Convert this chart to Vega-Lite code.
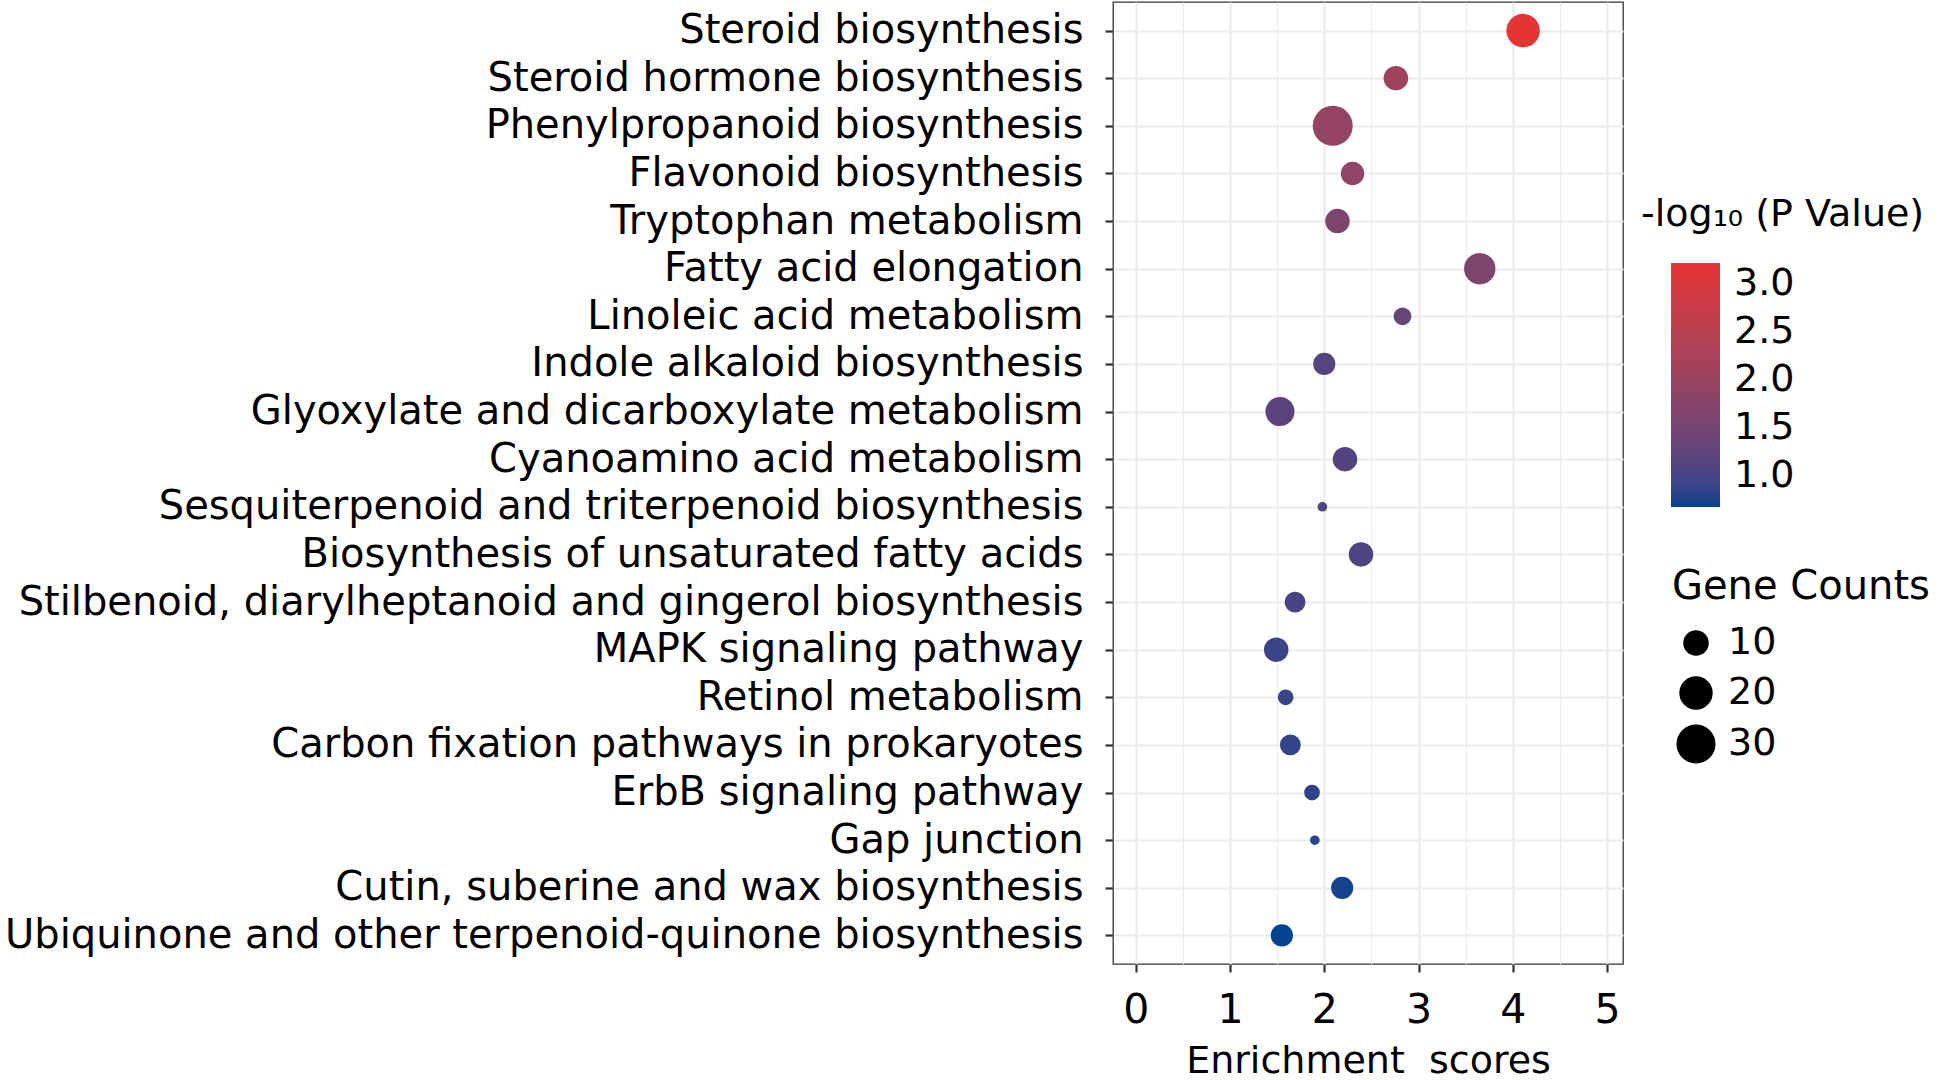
{
  "$schema": "https://vega.github.io/schema/vega-lite/v6.json",
  "autosize": {"type": "none"},
  "width": 510,
  "height": 962,
  "padding": {"left": 1113, "top": 2, "right": 323, "bottom": 116},
  "background": "white",
  "title": {
    "text": "-log\u2081\u2080 (P Value)",
    "orient": "top",
    "anchor": "start",
    "frame": "group",
    "baseline": "alphabetic",
    "offset": 0,
    "dx": 528,
    "dy": 262,
    "font": "DejaVu Sans",
    "fontSize": 38,
    "fontWeight": "normal",
    "color": "#000000",
    "limit": 400
  },
  "config": {
    "view": {"stroke": "#333333", "strokeWidth": 1.3},
    "font": "DejaVu Sans"
  },
  "data": {
    "values": [
      {"pathway": "Steroid biosynthesis", "score": 4.11, "count": 20, "logp": 3.214},
      {"pathway": "Steroid hormone biosynthesis", "score": 2.76, "count": 9, "logp": 2.1},
      {"pathway": "Phenylpropanoid biosynthesis", "score": 2.09, "count": 32, "logp": 1.95},
      {"pathway": "Flavonoid biosynthesis", "score": 2.30, "count": 8, "logp": 1.9},
      {"pathway": "Tryptophan metabolism", "score": 2.14, "count": 9, "logp": 1.65},
      {"pathway": "Fatty acid elongation", "score": 3.65, "count": 17, "logp": 1.62},
      {"pathway": "Linoleic acid metabolism", "score": 2.83, "count": 4, "logp": 1.35},
      {"pathway": "Indole alkaloid biosynthesis", "score": 2.00, "count": 7, "logp": 1.15},
      {"pathway": "Glyoxylate and dicarboxylate metabolism", "score": 1.53, "count": 14, "logp": 1.2},
      {"pathway": "Cyanoamino acid metabolism", "score": 2.22, "count": 9, "logp": 1.1},
      {"pathway": "Sesquiterpenoid and triterpenoid biosynthesis", "score": 1.98, "count": 1, "logp": 1.07},
      {"pathway": "Biosynthesis of unsaturated fatty acids", "score": 2.39, "count": 9, "logp": 1.07},
      {"pathway": "Stilbenoid, diarylheptanoid and gingerol biosynthesis", "score": 1.69, "count": 6, "logp": 1.0},
      {"pathway": "MAPK signaling pathway", "score": 1.49, "count": 9, "logp": 0.9},
      {"pathway": "Retinol metabolism", "score": 1.59, "count": 3, "logp": 0.88},
      {"pathway": "Carbon fixation pathways in prokaryotes", "score": 1.64, "count": 6, "logp": 0.85},
      {"pathway": "ErbB signaling pathway", "score": 1.87, "count": 3, "logp": 0.82},
      {"pathway": "Gap junction", "score": 1.90, "count": 1, "logp": 0.8},
      {"pathway": "Cutin, suberine and wax biosynthesis", "score": 2.19, "count": 7, "logp": 0.72},
      {"pathway": "Ubiquinone and other terpenoid-quinone biosynthesis", "score": 1.55, "count": 7, "logp": 0.678}
    ]
  },
  "mark": {"type": "point", "filled": true, "opacity": 1, "shape": "circle"},
  "encoding": {
    "x": {
      "field": "score",
      "type": "quantitative",
      "scale": {"domain": [-0.242, 5.17], "nice": false, "zero": false},
      "axis": {
        "values": [0, 0.5, 1, 1.5, 2, 2.5, 3, 3.5, 4, 4.5, 5],
        "format": ".1f",
        "labelExpr": "datum.value % 1 === 0 ? format(datum.value, 'd') : ''",
        "domain": false,
        "grid": true,
        "gridColor": "#EBEBEB",
        "gridWidth": {"condition": {"test": "datum.value % 1 !== 0", "value": 1.1}, "value": 2.2},
        "tickOpacity": {"condition": {"test": "datum.value % 1 !== 0", "value": 0}, "value": 1},
        "tickColor": "#333333",
        "tickWidth": 2.2,
        "tickSize": 8,
        "labelFont": "DejaVu Sans",
        "labelFontSize": 41,
        "labelColor": "#000000",
        "labelPadding": 18,
        "labelFlush": false,
        "title": "Enrichment\u00a0 scores",
        "titleFont": "DejaVu Sans",
        "titleFontSize": 38,
        "titleFontWeight": "normal",
        "titleColor": "#000000",
        "titlePadding": 12
      }
    },
    "y": {
      "field": "pathway",
      "type": "nominal",
      "sort": null,
      "scale": {"type": "point", "padding": 0.6},
      "axis": {
        "domain": false,
        "grid": true,
        "gridColor": "#EBEBEB",
        "gridWidth": 2.2,
        "tickColor": "#333333",
        "tickWidth": 2.2,
        "tickSize": 8,
        "labelFont": "DejaVu Sans",
        "labelFontSize": 40,
        "labelColor": "#000000",
        "labelPadding": 22,
        "labelLimit": 1200,
        "title": null
      }
    },
    "color": {
      "field": "logp",
      "type": "quantitative",
      "scale": {"domain": [0.678, 3.214], "range": ["#04438F", "#E53434"], "interpolate": "lab", "nice": false, "zero": false},
      "legend": {
        "orient": "none",
        "legendX": 558,
        "legendY": 261,
        "direction": "vertical",
        "title": null,
        "values": [1.0, 1.5, 2.0, 2.5, 3.0],
        "format": ".1f",
        "gradientLength": 244,
        "gradientThickness": 49,
        "gradientStrokeWidth": 0,
        "labelFont": "DejaVu Sans",
        "labelFontSize": 38,
        "labelColor": "#000000",
        "labelOffset": 14,
        "padding": 0
      }
    },
    "size": {
      "field": "count",
      "type": "quantitative",
      "scale": {"type": "pow", "exponent": 0.75, "domain": [1, 32], "range": [92, 1600], "zero": false, "nice": false},
      "legend": {
        "orient": "none",
        "legendX": 559,
        "legendY": 565,
        "title": "Gene Counts",
        "titleFont": "DejaVu Sans",
        "titleFontSize": 40,
        "titleFontWeight": "normal",
        "titleColor": "#000000",
        "titlePadding": 17,
        "titleLimit": 400,
        "values": [10, 20, 30],
        "symbolType": "circle",
        "symbolFillColor": "#000000",
        "symbolStrokeWidth": 0,
        "symbolOpacity": 1,
        "symbolOffset": 4,
        "labelFont": "DejaVu Sans",
        "labelFontSize": 38,
        "labelColor": "#000000",
        "labelOffset": 12,
        "rowPadding": 12,
        "padding": 0
      }
    }
  }
}
